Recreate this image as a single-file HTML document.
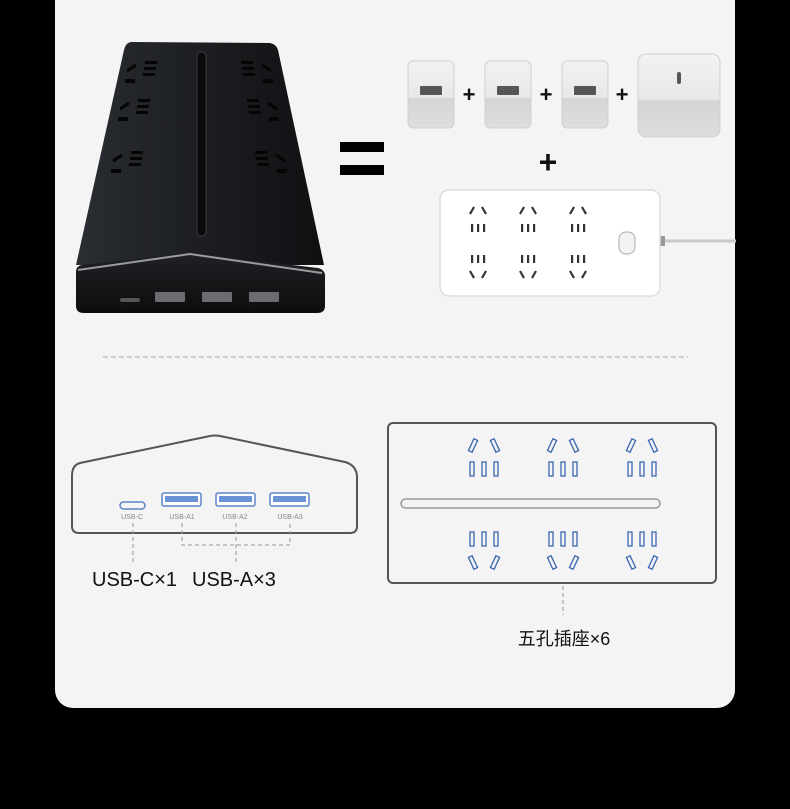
<!DOCTYPE html>
<html><head><meta charset="utf-8"><style>
html,body{margin:0;padding:0;background:#000;}
body{width:790px;height:809px;overflow:hidden;}
svg{display:block}
text{font-family:"Liberation Sans","Noto Sans CJK SC",sans-serif;}
</style></head><body>
<svg width="790" height="809" viewBox="0 0 790 809" xmlns="http://www.w3.org/2000/svg">
<defs>
<linearGradient id="top" x1="0" y1="0" x2="1" y2="0">
<stop offset="0" stop-color="#2a2d31"/><stop offset="0.5" stop-color="#1c1e21"/><stop offset="1" stop-color="#0f1012"/>
</linearGradient>
<linearGradient id="front" x1="0" y1="0" x2="0" y2="1">
<stop offset="0" stop-color="#1f2124"/><stop offset="1" stop-color="#0c0d0e"/>
</linearGradient>
<linearGradient id="chg" x1="0" y1="0" x2="0" y2="1">
<stop offset="0" stop-color="#f2f2f2"/><stop offset="0.55" stop-color="#e8e8e8"/><stop offset="0.56" stop-color="#d4d4d4"/><stop offset="1" stop-color="#dedede"/>
</linearGradient>
<g id="bs">
<rect x="-13" y="-7" width="4" height="13" fill="none" stroke="#3a66b0" stroke-width="1.3" transform="rotate(25 -11 -0.5)"/>
<rect x="9" y="-7" width="4" height="13" fill="none" stroke="#3a66b0" stroke-width="1.3" transform="rotate(-25 11 -0.5)"/>
</g>
<g id="bsd">
<rect x="-13" y="-7" width="4" height="13" fill="none" stroke="#3a66b0" stroke-width="1.3" transform="rotate(-25 -11 -0.5)"/>
<rect x="9" y="-7" width="4" height="13" fill="none" stroke="#3a66b0" stroke-width="1.3" transform="rotate(25 11 -0.5)"/>
</g>
<g id="sl">
<rect x="-14" y="0" width="4" height="14" fill="none" stroke="#3a66b0" stroke-width="1.3"/>
<rect x="-2" y="0" width="4" height="14" fill="none" stroke="#3a66b0" stroke-width="1.3"/>
<rect x="10" y="0" width="4" height="14" fill="none" stroke="#3a66b0" stroke-width="1.3"/>
</g>
<g id="ws">
<line x1="-8" y1="-2" x2="-4" y2="-9" stroke="#333" stroke-width="2.2"/>
<line x1="4" y1="-9" x2="8" y2="-2" stroke="#333" stroke-width="2.2"/>
<rect x="-7" y="8" width="2.2" height="8" fill="#333"/><rect x="-1" y="8" width="2.2" height="8" fill="#333"/><rect x="5" y="8" width="2.2" height="8" fill="#333"/>
</g>
<g id="wsd">
<rect x="-7" y="0" width="2.2" height="8" fill="#333"/><rect x="-1" y="0" width="2.2" height="8" fill="#333"/><rect x="5" y="0" width="2.2" height="8" fill="#333"/>
<line x1="-8" y1="16" x2="-4" y2="23" stroke="#333" stroke-width="2.2"/>
<line x1="4" y1="23" x2="8" y2="16" stroke="#333" stroke-width="2.2"/>
</g>
<g id="ks">
<line x1="-20" y1="6" x2="-11" y2="0" stroke="#050505" stroke-width="3"/>
<rect x="-22" y="14" width="10" height="4" fill="#050505"/>
<rect x="-2" y="-4" width="12" height="3" fill="#050505"/><rect x="-3" y="2" width="12" height="3" fill="#050505"/><rect x="-4" y="8" width="12" height="3" fill="#050505"/>
</g>
<g id="ksr">
<line x1="20" y1="6" x2="11" y2="0" stroke="#050505" stroke-width="3"/>
<rect x="12" y="14" width="10" height="4" fill="#050505"/>
<rect x="-10" y="-4" width="12" height="3" fill="#050505"/><rect x="-9" y="2" width="12" height="3" fill="#050505"/><rect x="-8" y="8" width="12" height="3" fill="#050505"/>
</g>
</defs>

<rect x="55" y="-20" width="680" height="728" rx="18" fill="#f4f4f4"/>

<!-- black strip -->
<path d="M132 42 L270 43 Q276 44 278 50 L324 265 L76 265 L124 50 Q126 42 132 42 Z" fill="url(#top)"/>
<rect x="197" y="52" width="9" height="184" rx="4" fill="#0a0a0a" stroke="#3a3c40" stroke-width="1"/>
<use href="#ks" x="147" y="65"/><use href="#ks" x="140" y="103"/><use href="#ks" x="133" y="155"/>
<use href="#ksr" x="251" y="65"/><use href="#ksr" x="257" y="103"/><use href="#ksr" x="265" y="155"/>
<path d="M76 272 Q76 266 82 265 L190 253 L318 268 Q326 270 325 278 L325 306 Q325 313 317 313 L84 313 Q76 313 76 306 Z" fill="url(#front)"/>
<path d="M78 270 L190 254 L322 273" fill="none" stroke="#9a9ca0" stroke-width="2"/>
<rect x="120" y="298" width="20" height="4" rx="2" fill="#555"/>
<rect x="155" y="292" width="30" height="10" rx="1" fill="#6a6c70"/>
<rect x="202" y="292" width="30" height="10" rx="1" fill="#6a6c70"/>
<rect x="249" y="292" width="30" height="10" rx="1" fill="#6a6c70"/>

<!-- equals -->
<rect x="340" y="142" width="44" height="10" fill="#000"/>
<rect x="340" y="165" width="44" height="10" fill="#000"/>

<!-- chargers -->
<rect x="408" y="61" width="46" height="67" rx="5" fill="url(#chg)" stroke="#d0d0d0" stroke-width="1"/>
<rect x="420" y="86" width="22" height="9" rx="1" fill="#555"/>
<rect x="485" y="61" width="46" height="67" rx="5" fill="url(#chg)" stroke="#d0d0d0" stroke-width="1"/>
<rect x="497" y="86" width="22" height="9" rx="1" fill="#555"/>
<rect x="562" y="61" width="46" height="67" rx="5" fill="url(#chg)" stroke="#d0d0d0" stroke-width="1"/>
<rect x="574" y="86" width="22" height="9" rx="1" fill="#555"/>
<rect x="638" y="54" width="82" height="83" rx="8" fill="url(#chg)" stroke="#d0d0d0" stroke-width="1"/>
<rect x="677" y="72" width="4" height="12" rx="2" fill="#555"/>
<text x="469" y="102" font-size="22" font-weight="bold" text-anchor="middle" fill="#111">+</text>
<text x="546" y="102" font-size="22" font-weight="bold" text-anchor="middle" fill="#111">+</text>
<text x="622" y="102" font-size="22" font-weight="bold" text-anchor="middle" fill="#111">+</text>
<text x="548" y="173" font-size="32" font-weight="bold" text-anchor="middle" fill="#111">+</text>

<!-- white strip -->
<line x1="662" y1="241" x2="736" y2="241" stroke="#c8c8c8" stroke-width="3"/>
<rect x="657" y="236" width="8" height="10" fill="#999"/>
<rect x="440" y="190" width="220" height="106" rx="9" fill="#fff" stroke="#ddd" stroke-width="1.5"/>
<use href="#ws" x="478" y="216"/><use href="#ws" x="528" y="216"/><use href="#ws" x="578" y="216"/>
<use href="#wsd" x="478" y="255"/><use href="#wsd" x="528" y="255"/><use href="#wsd" x="578" y="255"/>
<rect x="619" y="232" width="16" height="22" rx="7" fill="#f3f3f3" stroke="#aaa" stroke-width="1"/>

<!-- divider -->
<line x1="103" y1="357" x2="688" y2="357" stroke="#aaa" stroke-width="1" stroke-dasharray="5 3"/>

<!-- front diagram -->
<path d="M80 463 L210 436 Q215 435 220 436 L345 462 Q356 465 357 476 L357 526 Q357 533 350 533 L79 533 Q72 533 72 526 L72 476 Q72 465 80 463 Z" fill="none" stroke="#555" stroke-width="2"/>
<rect x="120" y="502" width="25" height="7" rx="3.5" fill="none" stroke="#5b84c8" stroke-width="1.5"/>
<rect x="162" y="493" width="39" height="13" rx="2" fill="#fff" stroke="#5b84c8" stroke-width="1.5"/>
<rect x="165" y="496" width="33" height="6" fill="#6a93d6"/>
<rect x="216" y="493" width="39" height="13" rx="2" fill="#fff" stroke="#5b84c8" stroke-width="1.5"/>
<rect x="219" y="496" width="33" height="6" fill="#6a93d6"/>
<rect x="270" y="493" width="39" height="13" rx="2" fill="#fff" stroke="#5b84c8" stroke-width="1.5"/>
<rect x="273" y="496" width="33" height="6" fill="#6a93d6"/>
<g font-size="7" fill="#888" text-anchor="middle">
<text x="132" y="519">USB-C</text><text x="182" y="519">USB-A1</text><text x="235" y="519">USB-A2</text><text x="290" y="519">USB-A3</text>
</g>
<g stroke="#999" stroke-width="1" stroke-dasharray="4 3" fill="none">
<line x1="133" y1="523" x2="133" y2="565"/>
<path d="M182 523 L182 545 L290 545 L290 523"/>
<line x1="236" y1="523" x2="236" y2="563"/>
<line x1="563" y1="572" x2="563" y2="615"/>
</g>
<text x="92" y="586" font-size="20" fill="#111">USB-C×1</text>
<text x="192" y="586" font-size="20" fill="#111">USB-A×3</text>

<!-- top diagram -->
<rect x="388" y="423" width="328" height="160" rx="5" fill="#f4f4f4" stroke="#555" stroke-width="2"/>
<rect x="401" y="499" width="259" height="9" rx="4.5" fill="none" stroke="#888" stroke-width="1.3"/>
<use href="#bs" x="484" y="446"/><use href="#bs" x="563" y="446"/><use href="#bs" x="642" y="446"/>
<use href="#sl" x="484" y="462"/><use href="#sl" x="563" y="462"/><use href="#sl" x="642" y="462"/>
<use href="#sl" x="484" y="532"/><use href="#sl" x="563" y="532"/><use href="#sl" x="642" y="532"/>
<use href="#bsd" x="484" y="563"/><use href="#bsd" x="563" y="563"/><use href="#bsd" x="642" y="563"/>
<text x="564" y="645" font-size="18" text-anchor="middle" fill="#111">五孔插座×6</text>
</svg>
</body></html>
